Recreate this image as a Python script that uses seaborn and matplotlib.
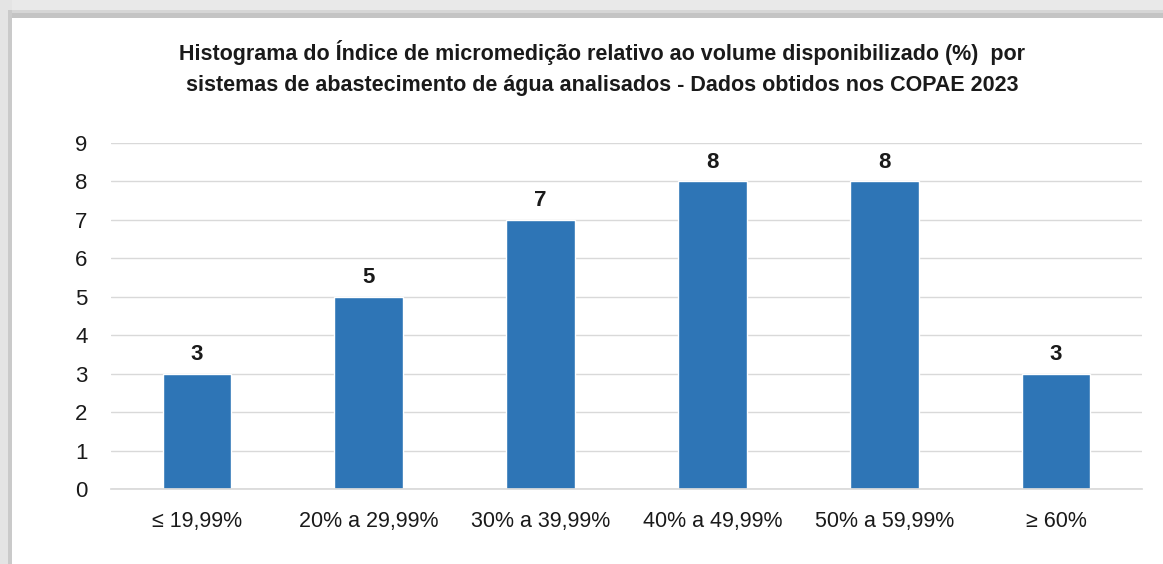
import matplotlib
matplotlib.use("Agg")
import matplotlib.pyplot as plt
import seaborn as sns
import pandas as pd
from matplotlib.patches import Rectangle

sns.set_theme(style="white")
plt.rcParams["font.family"] = ["Liberation Sans", "DejaVu Sans"]

# data
categories = ["≤ 19,99%", "20% a 29,99%", "30% a 39,99%", "40% a 49,99%", "50% a 59,99%", "≥ 60%"]
counts = [3, 5, 7, 8, 8, 3]
title = ("Histograma do Índice de micromedição relativo ao volume disponibilizado (%)  por\n"
         "sistemas de abastecimento de água analisados - Dados obtidos nos COPAE 2023")

df = pd.DataFrame({"faixa": categories, "n": counts})
bar_color = "#2e75b6"
text_color = "#1a1a1a"

fig = plt.figure(figsize=(11.63, 5.64), dpi=100)
fig.patch.set_facecolor("white")

# grey shadow frame round the panel
W, H = 1163, 564
fig.patches.append(Rectangle((0, 1 - 18 / H), 1, 18 / H, transform=fig.transFigure,
                             facecolor="#e9e9e9", edgecolor="none", zorder=0))
fig.patches.append(Rectangle((0, 1 - 18 / H), 1, 5 / H, transform=fig.transFigure,
                             facecolor="#c4c4c4", edgecolor="none", zorder=0))
fig.patches.append(Rectangle((0, 1 - 13 / H), 1, 3 / H, transform=fig.transFigure,
                             facecolor="#d6d6d6", edgecolor="none", zorder=0))
fig.patches.append(Rectangle((0, 0), 12 / W, 1, transform=fig.transFigure,
                             facecolor="#e4e4e4", edgecolor="none", zorder=0))
fig.patches.append(Rectangle((8 / W, 0), 4 / W, 1 - 10 / H, transform=fig.transFigure,
                             facecolor="#cacaca", edgecolor="none", zorder=0))

ax = fig.add_axes([111 / W, 1 - 489 / H, 1031 / W, 346 / H])
sns.barplot(data=df, x="faixa", y="n", color=bar_color, width=0.4, saturation=1, ax=ax)

ax.set_ylim(0, 9)
ax.set_yticks(range(0, 10))
ax.set_xlim(-0.5, len(categories) - 0.5)
ax.yaxis.grid(True, color="#d9d9d9", linewidth=1)
ax.set_axisbelow(True)
for s in ["top", "right", "left"]:
    ax.spines[s].set_visible(False)
ax.spines["bottom"].set_color("#d9d9d9")
ax.tick_params(axis="both", length=0, colors=text_color)
ax.tick_params(axis="y", pad=17, labelsize=16)
ax.tick_params(axis="x", pad=16, labelsize=15.5)
ax.set_xlabel("")
ax.set_ylabel("")

for i, v in enumerate(counts):
    ax.text(i, v + 0.22, str(v), ha="center", va="bottom", fontsize=16, fontweight="bold",
            color=text_color)

fig.text(0.518, 1 - 68 / H, title, ha="center", va="center", fontsize=15.5,
         fontweight="bold", color=text_color, linespacing=1.6)

fig.savefig("out.png", dpi=100)
